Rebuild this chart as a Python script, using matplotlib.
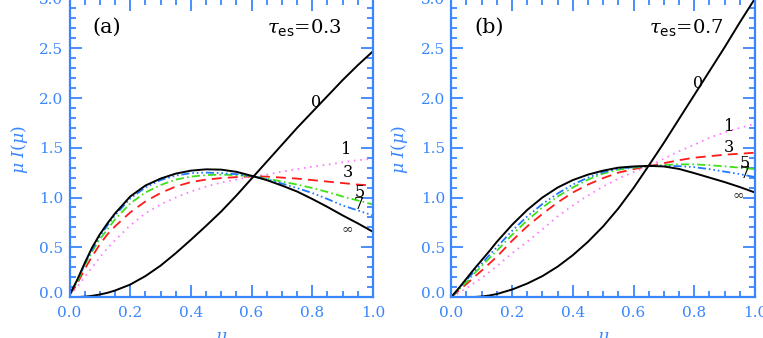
import matplotlib
matplotlib.use('Agg')
import matplotlib.pyplot as plt
from matplotlib.ticker import MultipleLocator, FormatStrFormatter
import matplotlib.transforms as mtransforms

plt.rcParams['font.family'] = ['DejaVu Serif']
plt.rcParams['mathtext.fontset'] = 'dejavuserif'

# ---------------- data ----------------
mu = [0, 0.025, 0.05, 0.075, 0.1, 0.125, 0.15, 0.2, 0.25, 0.3, 0.35, 0.4,
      0.45, 0.5, 0.55, 0.6, 0.65, 0.7, 0.75, 0.8, 0.85, 0.9, 0.95, 1.0]

# panel (a): tau_es = 0.3
a_n0 = [0, 0, 0.003, 0.012, 0.025, 0.042, 0.065, 0.125, 0.21, 0.315, 0.44, 0.575,
        0.715, 0.86, 1.02, 1.19, 1.36, 1.53, 1.70, 1.86, 2.02, 2.18, 2.33, 2.47]
a_n1 = [0.02, 0.10, 0.20, 0.30, 0.40, 0.49, 0.57, 0.72, 0.84, 0.93, 1.00, 1.06,
        1.11, 1.15, 1.18, 1.21, 1.23, 1.26, 1.285, 1.31, 1.33, 1.355, 1.375, 1.39]
a_n3 = [0.02, 0.13, 0.28, 0.41, 0.53, 0.63, 0.71, 0.85, 0.96, 1.045, 1.11, 1.155,
        1.18, 1.195, 1.205, 1.212, 1.21, 1.20, 1.19, 1.175, 1.16, 1.145, 1.13, 1.12]
a_n5 = [0.02, 0.15, 0.32, 0.46, 0.58, 0.68, 0.78, 0.94, 1.05, 1.125, 1.18, 1.21,
        1.225, 1.23, 1.225, 1.213, 1.19, 1.16, 1.13, 1.095, 1.055, 1.01, 0.97, 0.93]
a_n7 = [0.02, 0.16, 0.33, 0.48, 0.61, 0.72, 0.82, 0.99, 1.10, 1.175, 1.22, 1.245,
        1.25, 1.245, 1.235, 1.213, 1.185, 1.14, 1.095, 1.045, 0.985, 0.92, 0.87, 0.82]
a_inf = [0.02, 0.17, 0.34, 0.50, 0.63, 0.74, 0.84, 1.01, 1.12, 1.19, 1.24, 1.27,
         1.283, 1.28, 1.258, 1.218, 1.175, 1.12, 1.06, 0.985, 0.905, 0.82, 0.74, 0.655]

# panel (b): tau_es = 0.7
b_n0 = [0, 0, 0, 0, 0.005, 0.015, 0.03, 0.075, 0.135, 0.21, 0.305, 0.42,
        0.555, 0.71, 0.89, 1.095, 1.32, 1.55, 1.79, 2.03, 2.27, 2.51, 2.76, 3.0]
b_n1 = [0.0, 0.04, 0.09, 0.14, 0.19, 0.25, 0.31, 0.44, 0.555, 0.68, 0.81, 0.92,
        1.02, 1.11, 1.19, 1.255, 1.315, 1.39, 1.465, 1.53, 1.60, 1.655, 1.70, 1.74]
b_n3 = [0.0, 0.065, 0.13, 0.20, 0.265, 0.335, 0.405, 0.565, 0.71, 0.835, 0.95, 1.05,
        1.13, 1.195, 1.25, 1.285, 1.315, 1.345, 1.375, 1.40, 1.415, 1.43, 1.44, 1.45]
b_n5 = [0.0, 0.075, 0.15, 0.235, 0.31, 0.39, 0.465, 0.625, 0.77, 0.90, 1.01, 1.10,
        1.18, 1.24, 1.28, 1.30, 1.315, 1.327, 1.333, 1.333, 1.325, 1.313, 1.30, 1.285]
b_n7 = [0.0, 0.085, 0.17, 0.255, 0.335, 0.42, 0.50, 0.665, 0.81, 0.935, 1.04, 1.13,
        1.20, 1.255, 1.29, 1.305, 1.315, 1.318, 1.315, 1.305, 1.285, 1.26, 1.235, 1.205]
b_inf = [0.0, 0.09, 0.185, 0.28, 0.37, 0.46, 0.555, 0.725, 0.875, 1.0, 1.10, 1.175,
         1.23, 1.27, 1.30, 1.312, 1.318, 1.312, 1.287, 1.245, 1.20, 1.155, 1.105, 1.05]

panel_tags = ['(a)', '(b)']
tau_labels = [r'$\tau_{\mathsf{es}}$=0.3', r'$\tau_{\mathsf{es}}$=0.7']
curve_names = ['1', '3', '5', '7', r'$\infty$', '0']
# label anchor positions (data coords) for each panel
a_lab_x = [0.913, 0.917, 0.957, 0.954, 0.913, 0.814]
a_lab_y = [1.48, 1.25, 1.05, 0.925, 0.69, 1.95]
b_lab_x = [0.915, 0.915, 0.967, 0.967, 0.945, 0.813]
b_lab_y = [1.71, 1.50, 1.34, 1.24, 1.04, 2.15]

# ---------------- style ----------------
W, H = 763, 338
BLUE = '#3a86ff'
col_pink, col_red, col_green, col_blue = '#ff77ff', '#ff1a1a', '#3ee01a', '#1f78ff'
styles = [
    dict(color=col_pink, lw=1.3, linestyle=(0, (0.9, 2.6))),
    dict(color=col_red, lw=1.3, linestyle=(0, (5.5, 3.4))),
    dict(color=col_green, lw=1.3, linestyle=(0, (4.5, 1.8, 0.9, 1.8))),
    dict(color=col_blue, lw=1.3, linestyle=(0, (4.5, 1.6, 0.9, 1.6, 0.9, 1.6, 0.9, 1.6))),
    dict(color='black', lw=1.4, linestyle='-'),
    dict(color='black', lw=1.4, linestyle='-'),
]

fig = plt.figure(figsize=(W / 100, H / 100), dpi=100)

panels = [
    dict(left=69.5, right=373.0, data=[a_n1, a_n3, a_n5, a_n7, a_inf, a_n0],
         labx=a_lab_x, laby=a_lab_y, ylab_x=20, xlab_x=221),
    dict(left=451.3, right=755.0, data=[b_n1, b_n3, b_n5, b_n7, b_inf, b_n0],
         labx=b_lab_x, laby=b_lab_y, ylab_x=400, xlab_x=603),
]
bottom_px, top_px = 297.0, -1.5

for i, p in enumerate(panels):
    ax = fig.add_axes([p['left'] / W, (H - bottom_px) / H,
                       (p['right'] - p['left']) / W, (bottom_px - top_px) / H])
    for series, st in zip(p['data'], styles):
        ax.plot(mu, series, solid_capstyle='butt', dash_capstyle='butt',
                solid_joinstyle='round', **st)
    ax.set_xlim(0, 1)
    ax.set_ylim(0, 3)
    ax.xaxis.set_major_locator(MultipleLocator(0.2))
    ax.xaxis.set_minor_locator(MultipleLocator(0.05))
    ax.yaxis.set_major_locator(MultipleLocator(0.5))
    ax.yaxis.set_minor_locator(MultipleLocator(0.1))
    ax.xaxis.set_major_formatter(FormatStrFormatter('%.1f'))
    ax.yaxis.set_major_formatter(FormatStrFormatter('%.1f'))
    ax.tick_params(which='both', direction='in', top=True, right=True,
                   color=BLUE, labelcolor=BLUE, width=1.3)
    ax.tick_params(which='major', length=8.3, labelsize=11)
    ax.tick_params(which='minor', length=4.0)
    ax.tick_params(axis='x', which='major', pad=6.5)
    ax.tick_params(axis='y', which='major', pad=4.5)
    for sp in ax.spines.values():
        sp.set_color(BLUE)
        sp.set_linewidth(1.6)
    # raise the 0.0 y tick label a bit (as in the reference)
    fig.canvas.draw()
    for lab in ax.get_yticklabels():
        if lab.get_text() == '0.0':
            lab.set_transform(lab.get_transform() +
                              mtransforms.ScaledTranslation(0, 4 / 100, fig.dpi_scale_trans))

    ax.text(0.124, 2.71, panel_tags[i], ha='center', va='center', fontsize=15, color='black')
    ax.text(0.652, 2.71, tau_labels[i], ha='left', va='center', fontsize=14, color='black')
    for name, lx, ly in zip(curve_names, p['labx'], p['laby']):
        if name == r'$\infty$':
            ax.text(lx, ly, name, ha='center', va='center', fontsize=10, color='#333333')
        else:
            ax.text(lx, ly, name, ha='center', va='center', fontsize=11.5, color='black')

    fig.text(p['ylab_x'] / W, 1 - 149 / H, r'$\mu\ I(\mu)$', rotation=90,
             ha='center', va='center', color=BLUE, fontsize=12.5)
    fig.text(p['xlab_x'] / W, (H - 341) / H, r'$\mu$', ha='center', va='baseline',
             color=BLUE, fontsize=12.5)

fig.savefig('out.png', dpi=100)
